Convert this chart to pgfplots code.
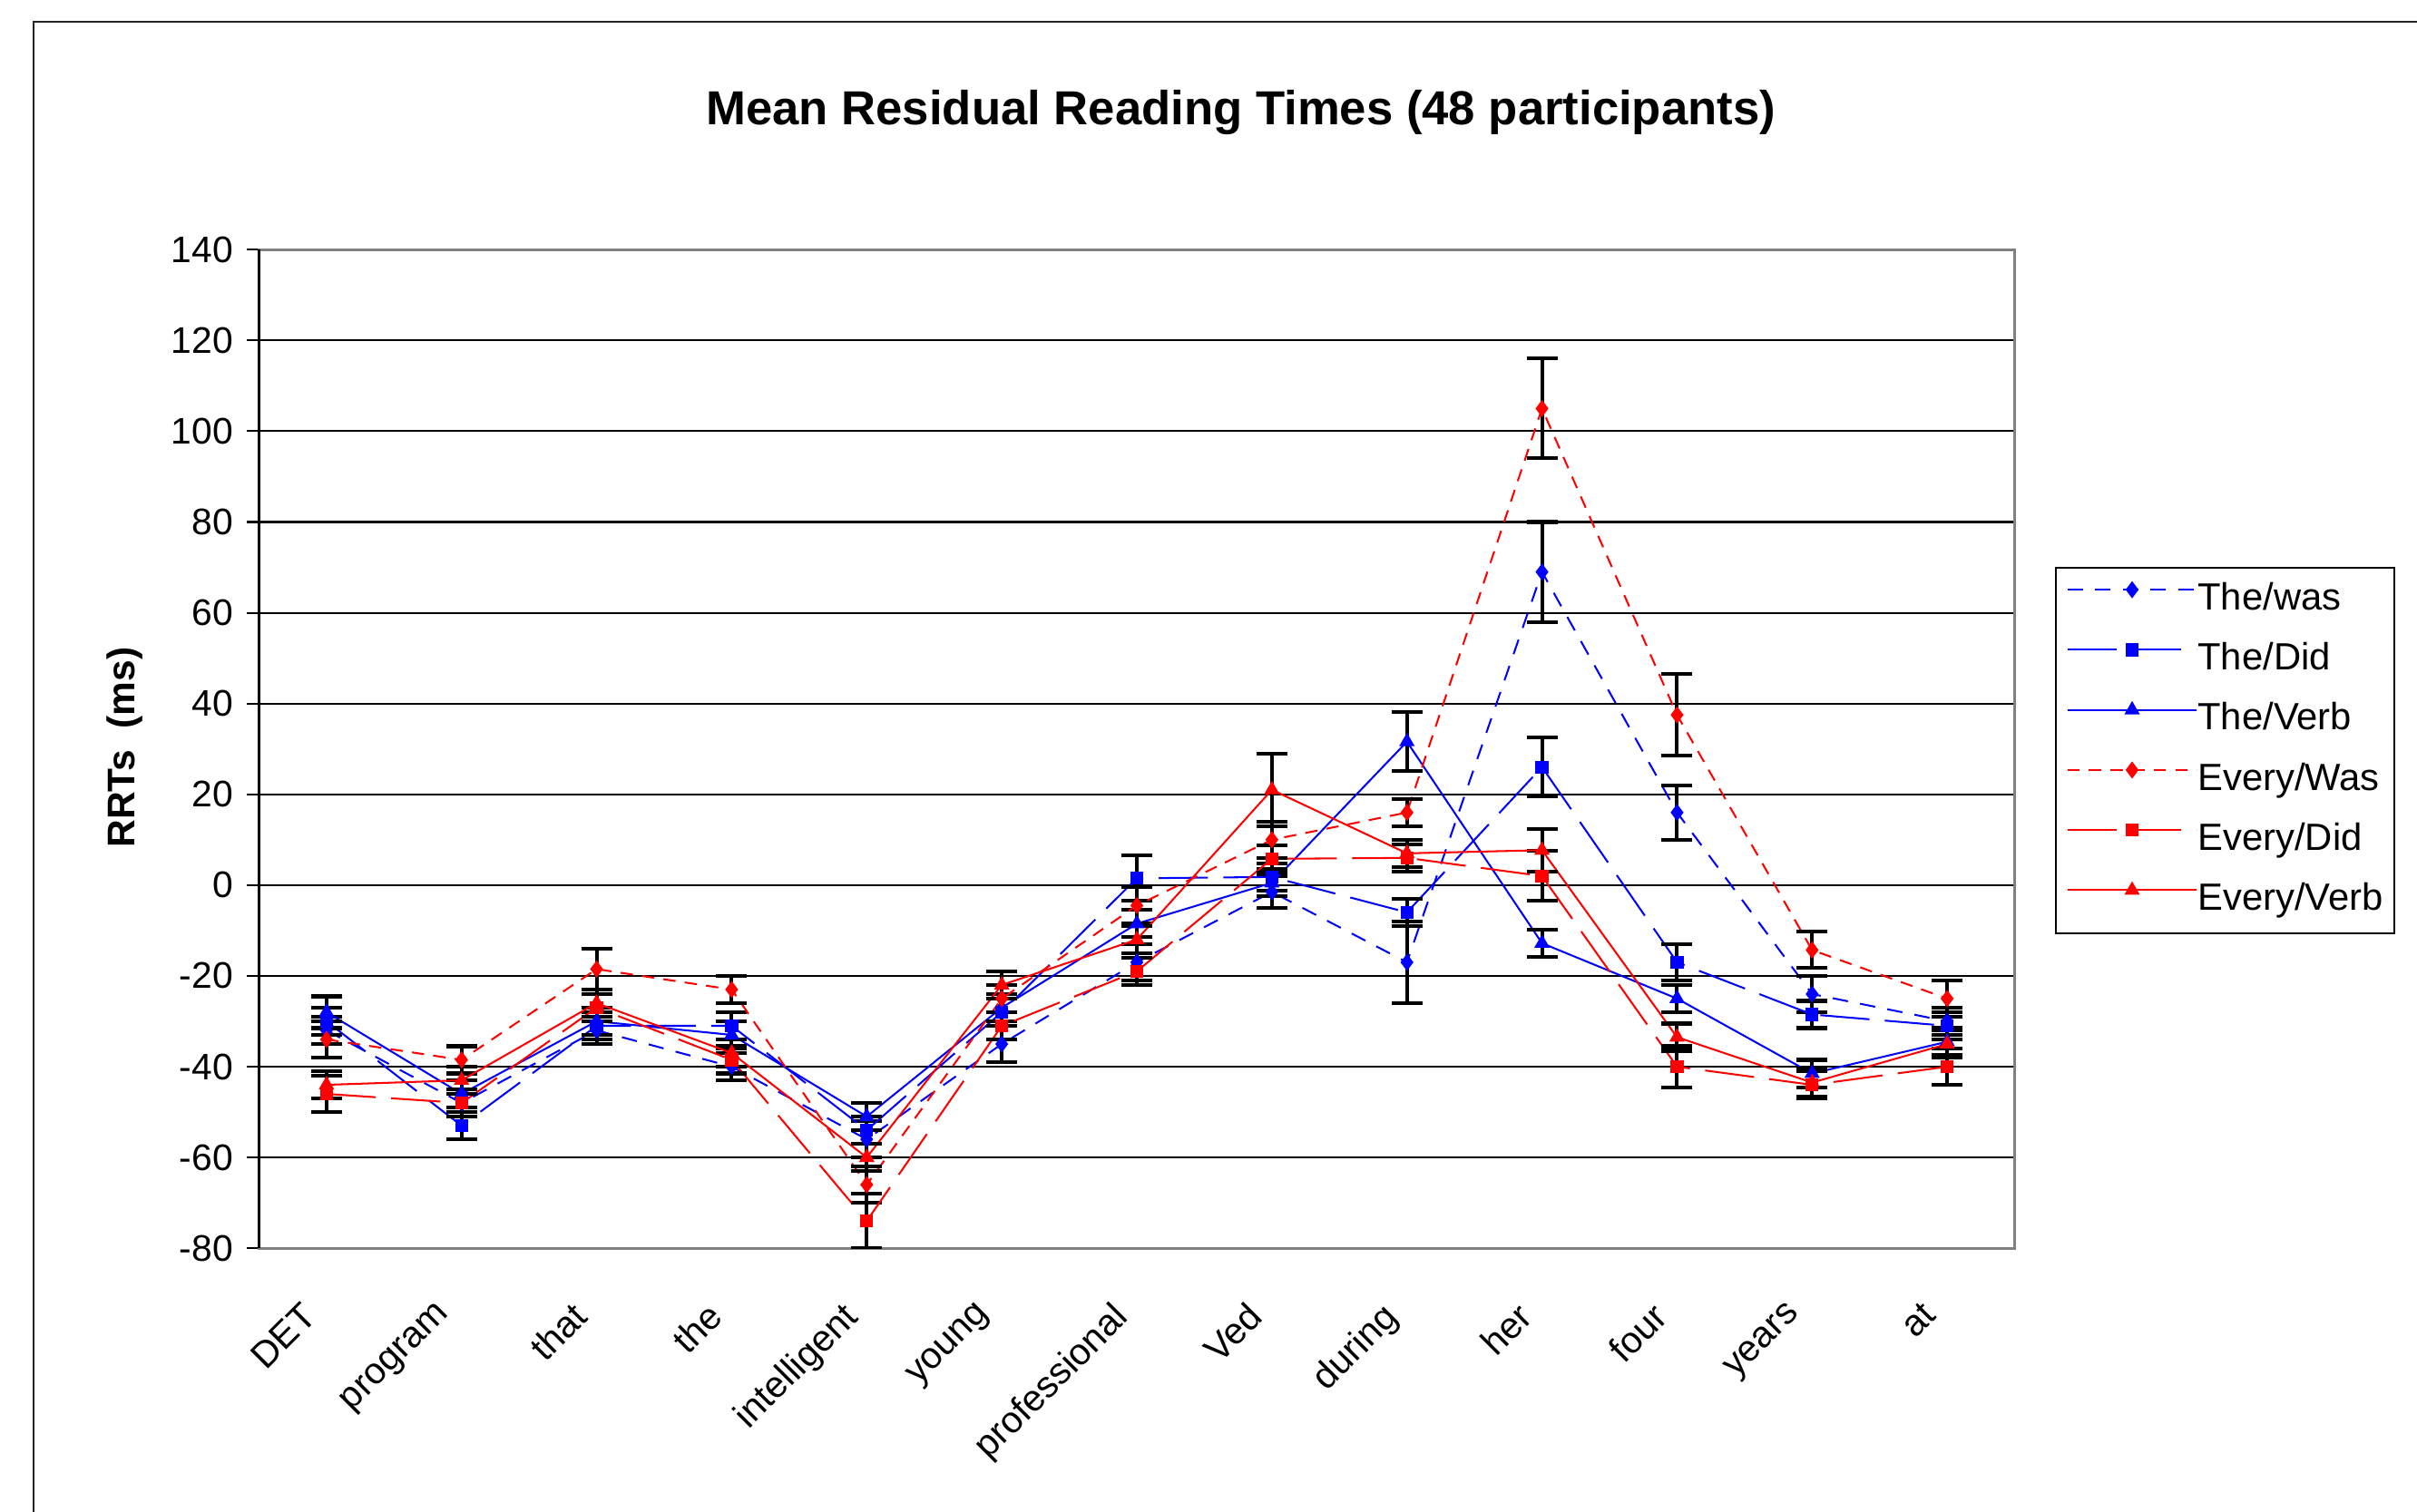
\documentclass[border=0pt]{standalone}
\usepackage{pgfplots}
\usepackage{pgfplotstable}
\pgfplotsset{compat=1.18}
\usepackage{fontspec}
\setmainfont{Liberation Sans}

\pgfplotstableread{
x y e
0 -32 3
1 -48 3
2 -32 3
3 -40 3
4 -56 4
5 -35 4
6 -17 4
7 -1.5 3.5
8 -17 9
9 69 11
10 16 6
11 -24 4
12 -30 3
}\thewas
\pgfplotstableread{
x y e
0 -30 3
1 -53 3
2 -31 3
3 -31 3
4 -54 3
5 -28 3
6 1.5 5
7 1.8 3
8 -6 3
9 26 6.5
10 -17 4
11 -28.5 3
12 -31 3
}\thedid
\pgfplotstableread{
x y e
0 -28 3.5
1 -46 3
2 -30 3
3 -33 3
4 -51 3
5 -27 3
6 -8.5 3
7 0.5 3
8 31.6 6.5
9 -12.8 3
10 -25 3
11 -41.5 3
12 -34.5 3
}\theverb
\pgfplotstableread{
x y e
0 -34 4
1 -38.5 3
2 -18.5 4.5
3 -23 3
4 -66 4
5 -25 3
6 -4.5 4
7 10 4
8 16 3
9 105 11
10 37.5 9
11 -14.3 4
12 -25 4
}\everywas
\pgfplotstableread{
x y e
0 -46 4
1 -48 3
2 -27 3
3 -38.5 3
4 -74 6
5 -31 3
6 -19 3
7 5.8 3
8 6 3
9 2 5.5
10 -40 4.5
11 -44 3
12 -40 4
}\everydid
\pgfplotstableread{
x y e
0 -44 3
1 -43 3
2 -26 3
3 -37 3
4 -60 3
5 -22 3
6 -12 3
7 21 8
8 7 3
9 7.7 4.7
10 -33.5 3
11 -43.5 3
12 -35 3
}\everyverb

\definecolor{xblue}{RGB}{0,0,255}
\definecolor{xred}{RGB}{255,0,0}

\begin{document}
\begin{tikzpicture}
\useasboundingbox (0,0) rectangle (784pt,-490.5pt);
\draw[black!85, line width=0.6pt] (11pt,-500pt) -- (11pt,-7pt) -- (800pt,-7pt);
\node[anchor=base, font=\fontsize{15.5}{18}\selectfont\bfseries] at (402.5pt,-40.5pt) {Mean Residual Reading Times (48 participants)};
\node[rotate=90, font=\fontsize{12.5}{15}\selectfont\bfseries] at (40.5pt,-242.5pt) {RRTs\ \ (ms)};
\begin{axis}[
  at={(84pt,-405pt)}, anchor=south west,
  scale only axis, width=569.5pt, height=324pt,
  xmin=-0.5, xmax=12.5, ymin=-80, ymax=140,
  ytick={-80,-60,...,140},
  xtick={0,...,12},
  xticklabels={DET,program,that,the,intelligent,young,professional,Ved,during,her,four,years,at},
  x tick label style={xshift=-8.5pt, yshift=-8pt, rotate=45, anchor=north east, font=\fontsize{12}{14}\selectfont},
  y tick label style={font=\fontsize{12}{14}\selectfont, xshift=-1pt},
  /pgf/number format/assume math mode=true,
  tick align=outside,
  ytick pos=left,
  major tick length=3.9pt,
  major x tick style={draw=none},
  ytick style={black, line width=0.6pt},
  ymajorgrids, grid style={black, line width=0.6pt},
  axis line style={draw=black!50, line width=1pt},
  extra description/.code={\draw[black, line width=0.8pt] (axis description cs:0,0) -- (axis description cs:0,1);},
  legend style={at={(1.0228,0.682)}, anchor=north west, draw=black, line width=0.6pt,
     font=\fontsize{12.3}{14}\selectfont, inner xsep=3.5pt, inner ysep=4.5pt, row sep=7.5pt,
     nodes={inner sep=0pt, text height=9pt, text depth=3pt},
     /tikz/every even column/.append style={column sep=3.5pt}},
  legend cell align=left,
  legend image code/.code={\draw[mark repeat=2,mark phase=2,#1] plot coordinates {(0pt,3.5pt) (21pt,3.5pt) (42pt,3.5pt)};},
  every axis plot/.append style={line width=0.6pt},
  error bars/y dir=both, error bars/y explicit,
  error bars/error bar style={black, line width=1.2pt, solid},
  error bars/error mark options={rotate=90, black, mark size=5pt, line width=1.2pt, solid},
]
\addplot[xblue, dash pattern=on 5pt off 4pt, mark=diamond*, mark size=2.3pt, mark options={solid}]
  table[x=x, y=y, y error=e] {\thewas};
\addlegendentry{The/was}
\addplot[xblue, dash pattern=on 16pt off 5pt, mark=square*, mark size=1.8pt, mark options={solid}]
  table[x=x, y=y, y error=e] {\thedid};
\addlegendentry{The/Did}
\addplot[xblue, solid, mark=triangle*, mark size=2.3pt, mark options={solid}]
  table[x=x, y=y, y error=e] {\theverb};
\addlegendentry{The/Verb}
\addplot[xred, dash pattern=on 4pt off 3pt, mark=diamond*, mark size=2.3pt, mark options={solid}]
  table[x=x, y=y, y error=e] {\everywas};
\addlegendentry{Every/Was}
\addplot[xred, dash pattern=on 16pt off 5pt, mark=square*, mark size=1.8pt, mark options={solid}]
  table[x=x, y=y, y error=e] {\everydid};
\addlegendentry{Every/Did}
\addplot[xred, solid, mark=triangle*, mark size=2.3pt, mark options={solid}]
  table[x=x, y=y, y error=e] {\everyverb};
\addlegendentry{Every/Verb}
\end{axis}
\end{tikzpicture}
\end{document}
